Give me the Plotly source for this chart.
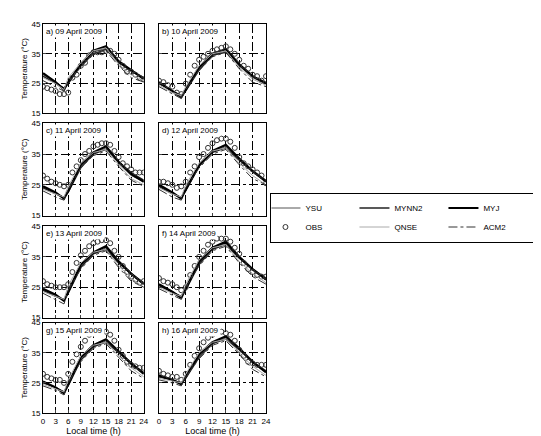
import plotly.graph_objects as go

hours = list(range(25))
T = [0, 3, 5, 6, 9, 12, 15, 18, 21, 24]
titles = ["a) 09 April 2009", "b) 10 April 2009", "c) 11 April 2009", "d) 12 April 2009",
          "e) 13 April 2009", "f) 14 April 2009", "g) 15 April 2009", "h) 16 April 2009"]

obs = [
    [24, 23.5, 23, 22.5, 21.5, 21.5, 22, 27, 28, 31, 32, 34.5, 35.5, 35.5, 35.5, 36, 36, 35, 33, 31, 29, 29, 28, 27, 26.5],
    [26, 25.5, 24.5, 24, 22, 21.5, 25, 28, 31, 33, 34, 35, 36, 36.5, 37, 37.5, 36.5, 35, 33, 31, 30, 28, 27.5, 26, 27.5],
    [28, 27, 26, 25.5, 25, 24.5, 25, 29, 31, 33, 35, 36, 37.5, 38, 38.5, 38.5, 38, 36, 34, 32, 31, 30, 29, 29, 29],
    [26, 26, 25.5, 25, 24, 24.5, 26, 29, 31, 34, 35, 37, 38.5, 39.5, 40, 40, 39, 37, 34, 32, 31, 30, 29, 28, 25.5],
    [27, 26, 25.5, 25, 25, 25, 26, 30, 33, 35.5, 37, 38.5, 39.5, 40, 40.5, 40.5, 39.5, 37, 35, 32, 30, 28.5, 27.5, 26.5, 27],
    [28, 27, 26.5, 26, 25, 24, 25, 29, 32, 35, 37, 39, 40, 41, 41, 41, 40, 38, 36, 33, 31, 30, 29, 28.5, 28.5],
    [28, 27, 26.5, 26, 26, 25, 28, 32, 34.5, 37, 39, 41, 41.5, 42, 42, 42, 41, 39, 36, 34, 32, 31, 30.5, 30, 30],
    [29, 28, 27.5, 27, 27, 26, 28, 31, 34, 36.5, 38.5, 40, 41, 41.5, 42, 41.5, 41, 39, 36, 34, 32, 31.5, 31, 31, 31],
]

ysu = [
    [28, 25.5, 23.5, 25, 31, 35.5, 37, 32, 29, 27],
    [25, 22.5, 21, 22.5, 30, 34.5, 36, 31, 27, 25],
    [24, 22, 21, 22.5, 31, 35, 37, 32, 28, 26],
    [24.5, 22, 21, 23, 31, 35.5, 37.5, 33, 29, 26],
    [24, 22, 21, 23, 32, 36, 38, 33, 29, 26],
    [25.5, 23.5, 22, 24, 33, 37.5, 39.5, 34.5, 30.5, 27.5],
    [25, 23.5, 22, 24, 33, 37, 39, 35, 31, 28],
    [27, 26, 25, 26.5, 34, 38, 40, 36, 31.5, 28.5],
]
myj = [
    [28.5, 25.5, 23, 25.5, 31.5, 36, 37.5, 32.5, 29.5, 26.5],
    [25.5, 22.5, 20.5, 23, 30.5, 35, 36.5, 31.5, 27.5, 25],
    [24.5, 22.5, 20.5, 23, 31.5, 35.5, 37.5, 32.5, 28.5, 26],
    [25, 22.5, 20.5, 23.5, 31.5, 36, 38, 33.5, 29.5, 26],
    [24.5, 22.5, 20.5, 23.5, 32.5, 36.5, 38.5, 33.5, 29.5, 26],
    [26, 23.5, 21.5, 24.5, 33.5, 38, 40, 35, 31, 27.5],
    [25.5, 23.5, 21.5, 24.5, 33.5, 37.5, 39.5, 35.5, 31.5, 28],
    [27.5, 26, 24.5, 27, 34.5, 38.5, 40.5, 36.5, 32, 28.5],
]
qnse = [
    [27, 25, 23, 27, 32, 36, 37, 31.5, 28, 26],
    [24.5, 22, 21, 24, 31, 35, 36, 30.5, 26.5, 24.5],
    [23.5, 22, 21, 24.5, 32, 35.5, 36.5, 31.5, 27, 25],
    [24, 22, 21, 25, 32, 36, 37, 32, 28, 25],
    [23.5, 22, 21, 25.5, 33, 36.5, 37.5, 32, 28, 25],
    [25, 23, 22, 26, 34, 38, 39, 33.5, 29.5, 26.5],
    [24.5, 23, 22, 26, 34, 37.5, 38.5, 34, 30, 27],
    [26.5, 25.5, 25, 28, 35, 38.5, 39.5, 35, 30.5, 27.5],
]
mynn2 = [
    [27.5, 25, 23.5, 25, 31, 35, 36.5, 32, 29.5, 27],
    [25, 22.5, 21, 22.5, 29.5, 34.5, 35.5, 31, 27.5, 25.5],
    [24, 22, 21, 22.5, 30.5, 35, 36.5, 32.5, 29, 26.5],
    [24.5, 22, 21, 23, 31, 35.5, 37, 33, 29.5, 26.5],
    [24, 22, 21, 23, 31.5, 36, 37.5, 33, 29.5, 26.5],
    [25.5, 23.5, 22, 24, 32.5, 37.5, 39, 34.5, 31, 28],
    [25, 23.5, 22, 24, 32.5, 37, 38.5, 35, 31.5, 28.5],
    [27, 26, 25, 26.5, 33.5, 38, 39.5, 36, 32, 29],
]
acm2 = [
    [26, 24, 22.5, 25.5, 30.5, 35, 36, 31, 27, 25.5],
    [24, 21.5, 20, 23, 29.5, 34, 35.5, 30, 25.5, 24],
    [23, 21, 20, 23.5, 30.5, 34.5, 36, 31, 26.5, 24.5],
    [23.5, 21, 20, 24, 30.5, 35, 36.5, 31.5, 27, 25],
    [23, 21, 19.5, 24, 31, 35.5, 37, 31.5, 27, 25],
    [24.5, 22.5, 21, 25, 32, 37, 38.5, 33, 28.5, 26],
    [24, 22.5, 21, 25, 32, 36.5, 38, 33.5, 29, 26.5],
    [26, 25, 24, 27, 33, 37.5, 39, 34.5, 29.5, 27],
]

models = [
    ("YSU", ysu, dict(color="#555555", width=1)),
    ("MYNN2", mynn2, dict(color="#222222", width=1.3)),
    ("MYJ", myj, dict(color="black", width=2.2)),
    ("OBS", None, None),
    ("QNSE", qnse, dict(color="#aaaaaa", width=1)),
    ("ACM2", acm2, dict(color="#333333", width=1, dash="dashdot")),
]

rows_dom = [[0.766, 0.995], [0.505, 0.741], [0.244, 0.477], [0.0, 0.231]]
cols_dom = [[0.0, 0.452], [0.52, 1.0]]

fig = go.Figure()
for i in range(8):
    r, c = divmod(i, 2)
    n = i + 1
    xa = "x" if n == 1 else f"x{n}"
    ya = "y" if n == 1 else f"y{n}"
    for name, data, line in models:
        if data is None:
            fig.add_trace(go.Scatter(x=hours, y=obs[i], mode="markers", name=name,
                                     marker=dict(symbol="circle-open", size=5, color="#333333", line=dict(width=1)),
                                     xaxis=xa, yaxis=ya, showlegend=(i == 0)))
        else:
            fig.add_trace(go.Scatter(x=T, y=data[i], mode="lines", name=name, line=line,
                                     xaxis=xa, yaxis=ya, showlegend=(i == 0)))
    ax = dict(domain=cols_dom[c], range=[0, 24], tickvals=list(range(0, 25, 3)),
              showticklabels=(r == 3), showgrid=True, gridcolor="black", griddash="dashdot", gridwidth=0.6,
              showline=True, linecolor="black", mirror=True, ticks="inside", ticklen=3,
              anchor=ya, zeroline=False, tickfont=dict(size=8))
    ay = dict(domain=rows_dom[r], range=[15, 45], tickvals=[15, 25, 35, 45],
              showticklabels=(c == 0), showgrid=True, gridcolor="black", griddash="dashdot", gridwidth=0.6,
              showline=True, linecolor="black", mirror=True, ticks="inside", ticklen=3,
              anchor=xa, zeroline=False, tickfont=dict(size=8))
    if r == 3:
        ax["title"] = dict(text="Local time (h)", font=dict(size=9), standoff=2)
    if c == 0:
        ay["title"] = dict(text="Temperature (°C)", font=dict(size=8), standoff=2)
    fig.update_layout({("xaxis" if n == 1 else f"xaxis{n}"): ax, ("yaxis" if n == 1 else f"yaxis{n}"): ay})
    fig.add_annotation(text=titles[i], xref=f"{xa} domain", yref=f"{ya} domain", x=0.01, y=0.99,
                       xanchor="left", yanchor="top", showarrow=False, font=dict(size=8),
                       bgcolor="white")

fig.update_layout(
    width=541, height=436, plot_bgcolor="white", paper_bgcolor="white",
    margin=dict(l=35, r=116, t=10, b=28),
    font=dict(family="Liberation Sans, Arial", color="black", size=8),
    legend=dict(x=1.02, y=0.5, xanchor="left", yanchor="middle", orientation="h",
                entrywidth=50, bordercolor="black", borderwidth=1, font=dict(size=8),
                tracegroupgap=0, itemwidth=30, indentation=-6),
)
fig.write_html("out.html")
